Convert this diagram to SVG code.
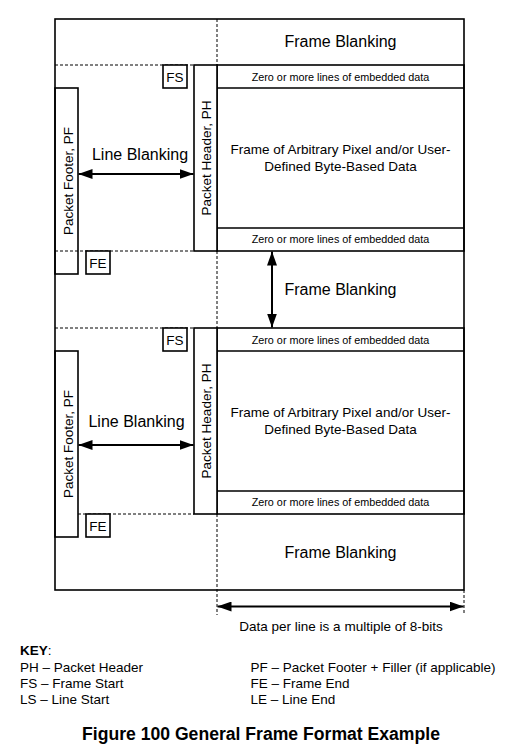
<svg xmlns="http://www.w3.org/2000/svg" width="516" height="755" viewBox="0 0 516 755">
<style>
text{font-family:"Liberation Sans",Arial,sans-serif;fill:#000}
.box{fill:none;stroke:#000;stroke-width:1.6}
.wbox{fill:#fff;stroke:#000;stroke-width:1.6}
.dash{fill:none;stroke:#000;stroke-width:1;stroke-dasharray:3,2}
.arr{stroke:#000;stroke-width:2;marker-start:url(#ah);marker-end:url(#ah)}
.fb{font-size:16px;text-anchor:middle}
.emb{font-size:10.8px;text-anchor:middle}
.mid{font-size:13.5px;text-anchor:middle}
.key{font-size:13.5px}
</style>
<defs>
<marker id="ah" markerUnits="userSpaceOnUse" markerWidth="14" markerHeight="10" refX="14" refY="5" orient="auto-start-reverse" viewBox="0 0 14 10">
<path d="M0,0 L14,5 L0,10 z" fill="#000"/>
</marker>
</defs>
<rect width="516" height="755" fill="#fff"/>

<g id="outer">
<rect class="box" x="55" y="19" width="409" height="571"/>
<path class="dash" d="M217,19 V65 M217,251 V328 M217,514 V615 M464,590 V615 M55,65 H194 M55,251 H194 M55,328 H194 M78,514 H194"/>
<text class="fb" x="340.5" y="47">Frame Blanking</text>
<text class="fb" x="340.5" y="295">Frame Blanking</text>
<text class="fb" x="340.5" y="558">Frame Blanking</text>
</g>

<g id="frame1">
<rect class="box" x="217" y="65" width="247" height="186"/>
<path class="box" d="M217,88 H464 M217,228 H464"/>
<text class="emb" x="340.5" y="80.5">Zero or more lines of embedded data</text>
<text class="mid" x="340.5" y="154">Frame of Arbitrary Pixel and/or User-</text>
<text class="mid" x="340.5" y="170.5">Defined Byte-Based Data</text>
<text class="emb" x="340.5" y="243">Zero or more lines of embedded data</text>
</g>

<g id="frame2">
<rect class="box" x="217" y="328" width="247" height="186"/>
<path class="box" d="M217,351 H464 M217,491 H464"/>
<text class="emb" x="340.5" y="343.5">Zero or more lines of embedded data</text>
<text class="mid" x="340.5" y="417">Frame of Arbitrary Pixel and/or User-</text>
<text class="mid" x="340.5" y="433.5">Defined Byte-Based Data</text>
<text class="emb" x="340.5" y="506">Zero or more lines of embedded data</text>
</g>

<g id="ph1">
<rect class="wbox" x="194" y="65" width="23" height="186"/>
<text class="mid" transform="translate(210.5,158) rotate(-90)">Packet Header, PH</text>
</g>
<g id="ph2">
<rect class="wbox" x="194" y="328" width="23" height="186"/>
<text class="mid" transform="translate(210.5,421) rotate(-90)">Packet Header, PH</text>
</g>
<g id="pf1">
<rect class="box" x="55" y="88" width="23" height="186"/>
<text class="mid" transform="translate(72.5,181) rotate(-90)">Packet Footer, PF</text>
</g>
<g id="pf2">
<rect class="box" x="55" y="351" width="23" height="186"/>
<text class="mid" transform="translate(72.5,444) rotate(-90)">Packet Footer, PF</text>
</g>
<g id="fs1">
<rect class="wbox" x="163" y="65" width="24" height="23"/>
<text class="mid" x="175" y="81.5">FS</text>
</g>
<g id="fs2">
<rect class="wbox" x="163" y="328" width="24" height="23"/>
<text class="mid" x="175" y="344.5">FS</text>
</g>
<g id="fe1">
<rect class="wbox" x="86" y="251" width="24" height="23"/>
<text class="mid" x="98" y="267.5">FE</text>
</g>
<g id="fe2">
<rect class="wbox" x="86" y="514" width="24" height="23"/>
<text class="mid" x="98" y="530.5">FE</text>
</g>

<g id="connectors">
<line class="arr" x1="78.5" y1="174" x2="193.5" y2="174"/>
<line class="arr" x1="78.5" y1="445" x2="193.5" y2="445"/>
<line class="arr" x1="272" y1="251.5" x2="272" y2="327.5"/>
<line class="arr" x1="217.5" y1="606.5" x2="463.5" y2="606.5"/>
</g>

<g id="labels">
<text class="fb" x="140" y="159.5">Line Blanking</text>
<text class="fb" x="136.5" y="426.5">Line Blanking</text>
<text class="mid" x="341" y="631">Data per line is a multiple of 8-bits</text>
</g>

<g id="key">
<text class="key" x="20" y="655"><tspan font-weight="bold">KEY</tspan>:</text>
<text class="key" x="20" y="672">PH – Packet Header</text>
<text class="key" x="20" y="688">FS – Frame Start</text>
<text class="key" x="20" y="704">LS – Line Start</text>
<text class="key" x="250.5" y="672">PF – Packet Footer + Filler (if applicable)</text>
<text class="key" x="250.5" y="688">FE – Frame End</text>
<text class="key" x="250.5" y="704">LE – Line End</text>
<text x="261" y="740" font-size="17.6" font-weight="bold" text-anchor="middle">Figure 100 General Frame Format Example</text>
</g>
</svg>
